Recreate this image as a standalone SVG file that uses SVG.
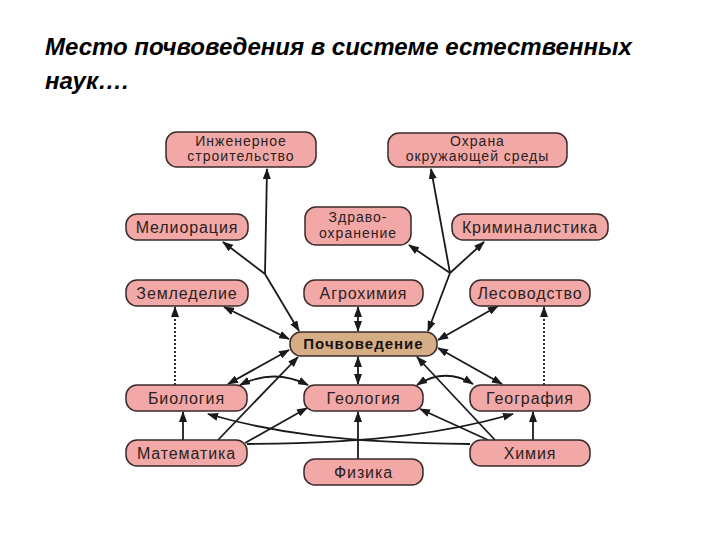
<svg xmlns="http://www.w3.org/2000/svg" width="720" height="540" viewBox="0 0 720 540">
<style>
.title{font-family:"Liberation Sans",Arial,sans-serif;font-weight:bold;font-style:italic;font-size:24px;fill:#000}
.box{fill:#F2A8A6;stroke:#3a2a2a;stroke-width:1.5}
.main{fill:#D6AE86;stroke:#3a2a2a;stroke-width:1.5}
.lbl{font-family:"Liberation Sans",Arial,sans-serif;font-size:16px;letter-spacing:0.9px;fill:#2a2222;text-anchor:middle}
.lbl2{font-family:"Liberation Sans",Arial,sans-serif;font-size:14px;letter-spacing:1px;fill:#2a2222;text-anchor:middle}
.mlbl{font-family:"Liberation Sans",Arial,sans-serif;font-size:15px;font-weight:bold;letter-spacing:1px;fill:#1a1212;text-anchor:middle}
.c{fill:none;stroke:#1a1a1a;stroke-width:1.8}
.e{marker-end:url(#arr)}
.b{marker-start:url(#arr);marker-end:url(#arr)}
.d{stroke-dasharray:2,2}
</style>
<defs>
<marker id="arr" markerUnits="userSpaceOnUse" markerWidth="11" markerHeight="8" refX="10" refY="4" orient="auto-start-reverse">
<path d="M0,0 L11,4 L0,8 Z" fill="#1a1a1a"/>
</marker>
</defs>
<rect width="720" height="540" fill="#fff"/>
<text class="title" x="45" y="55">Место почвоведения в системе естественных</text>
<text class="title" x="45" y="89">наук….</text>

<g id="connectors">
<path class="c e" d="M265,274 L267,169"/>
<path class="c e" d="M265,274 L223,242"/>
<path class="c e" d="M265,274 L299,331"/>
<path class="c e" d="M450,273 L431,169"/>
<path class="c e" d="M450,273 L409,245"/>
<path class="c e" d="M450,273 L484,242"/>
<path class="c e" d="M450,273 L428,331"/>
<path class="c b" d="M224,307 L289,339"/>
<path class="c b" d="M358,307 L358,331"/>
<path class="c b" d="M498,306 L438,340"/>
<path class="c b" d="M289,350 L228,384"/>
<path class="c b" d="M358,357 L358,384"/>
<path class="c b" d="M438,348 L502,384"/>
<path class="c e" d="M218,440 L298,357"/>
<path class="c e" d="M495,440 L417,357"/>
<path class="c b" d="M240,385 Q274,368 308,385"/>
<path class="c b" d="M417,385 Q445,367 473,384"/>
<path class="c e" d="M183,440 L183,412"/>
<path class="c e" d="M245,443 L307,408"/>
<path class="c e" d="M247,444 C380,443 450,432 513,414"/>
<path class="c e" d="M470,444 C340,443 270,432 208,414"/>
<path class="c e" d="M488,440 L420,409"/>
<path class="c e" d="M533,440 L533,412"/>
<path class="c e" d="M358,459 L358,412"/>
<path class="c e d" d="M175,385 L175,307"/>
<path class="c e d" d="M544,385 L544,307"/>
</g>

<g id="ing"><rect class="box" x="166" y="132" width="150" height="35" rx="11"/><text class="lbl2" x="241" y="146">Инженерное</text><text class="lbl2" x="241" y="161">строительство</text></g>
<g id="ohr"><rect class="box" x="388" y="133" width="179" height="34" rx="11"/><text class="lbl2" x="477.5" y="146">Охрана</text><text class="lbl2" x="477.5" y="161">окружающей среды</text></g>
<g id="mel"><rect class="box" x="126" y="214" width="122" height="26" rx="11"/><text class="lbl" x="187" y="233">Мелиорация</text></g>
<g id="zdr"><rect class="box" x="305" y="207" width="106" height="38" rx="11"/><text class="lbl2" x="358" y="222">Здраво-</text><text class="lbl2" x="358" y="238">охранение</text></g>
<g id="krim"><rect class="box" x="452" y="214" width="156" height="26" rx="11"/><text class="lbl" x="530" y="233">Криминалистика</text></g>
<g id="zem"><rect class="box" x="126" y="280" width="122" height="26" rx="11"/><text class="lbl" x="187" y="299">Земледелие</text></g>
<g id="agro"><rect class="box" x="304" y="280" width="119" height="26" rx="11"/><text class="lbl" x="363.5" y="299">Агрохимия</text></g>
<g id="les"><rect class="box" x="470" y="280" width="120" height="26" rx="11"/><text class="lbl" x="530" y="299">Лесоводство</text></g>
<g id="poch"><rect class="main" x="290" y="332" width="147" height="24" rx="11"/><text class="mlbl" x="363.5" y="349">Почвоведение</text></g>
<g id="bio"><rect class="box" x="126" y="385" width="121" height="26" rx="11"/><text class="lbl" x="186.5" y="404">Биология</text></g>
<g id="geo"><rect class="box" x="304" y="385" width="119" height="26" rx="11"/><text class="lbl" x="363.5" y="404">Геология</text></g>
<g id="geog"><rect class="box" x="470" y="385" width="120" height="26" rx="11"/><text class="lbl" x="530" y="404">География</text></g>
<g id="mat"><rect class="box" x="126" y="440" width="121" height="26" rx="11"/><text class="lbl" x="186.5" y="459">Математика</text></g>
<g id="fiz"><rect class="box" x="304" y="459" width="119" height="26" rx="11"/><text class="lbl" x="363.5" y="478">Физика</text></g>
<g id="him"><rect class="box" x="470" y="440" width="120" height="26" rx="11"/><text class="lbl" x="530" y="459">Химия</text></g>
</svg>
